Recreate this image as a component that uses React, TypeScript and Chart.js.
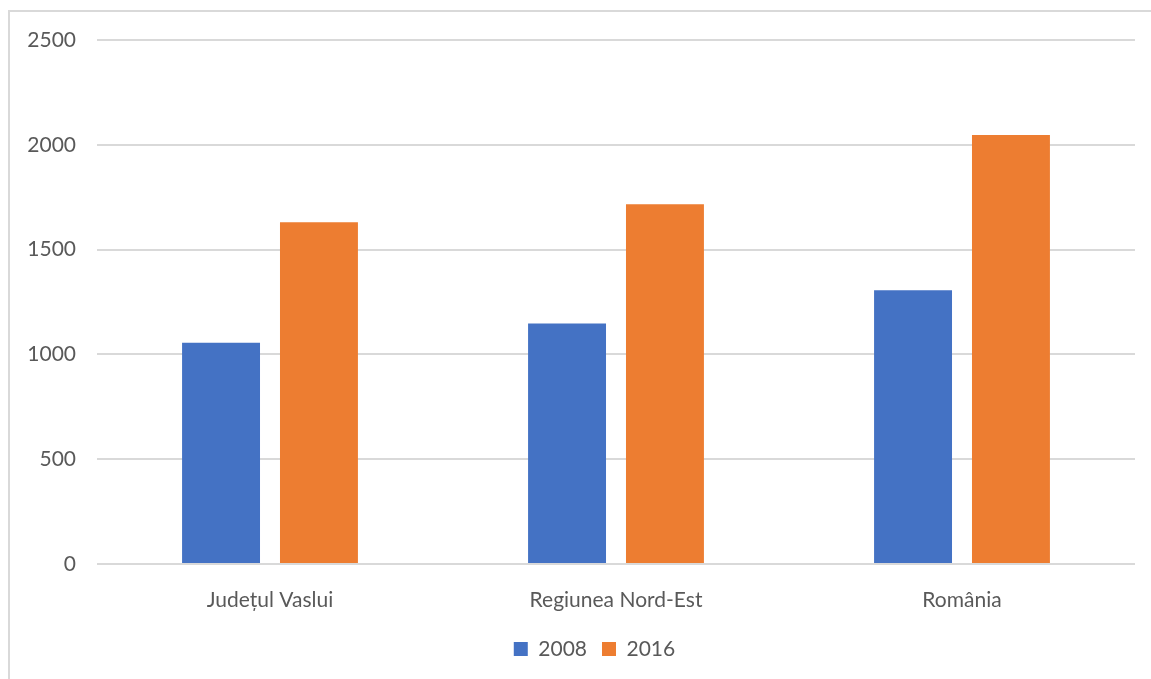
import React, { useEffect, useRef } from "react";
import { Chart, registerables } from "chart.js";

Chart.register(...registerables);

const categories = ["Județul Vaslui", "Regiunea Nord-Est", "România"];
const series2008 = [1056, 1147, 1306];
const series2016 = [1630, 1716, 2047];
const seriesLabels = ["2008", "2016"];
const yTicks = [0, 500, 1000, 1500, 2000, 2500];

const TEXT = "#595959";
const FONT = "Lato";

const legendShift = {
  id: "legendShift",
  afterLayout(chart: any) {
    if (chart.legend) {
      chart.legend.left += 22;
      chart.legend.right += 22;
    }
  },
};

export default function App() {
  const ref = useRef<HTMLCanvasElement | null>(null);

  useEffect(() => {
    if (!ref.current) return;
    const chart = new Chart(ref.current, {
      type: "bar",
      data: {
        labels: categories,
        datasets: [
          {
            label: seriesLabels[0],
            data: series2008,
            backgroundColor: "#4472C4",
            categoryPercentage: 0.566,
            barPercentage: 0.796,
          },
          {
            label: seriesLabels[1],
            data: series2016,
            backgroundColor: "#ED7D31",
            categoryPercentage: 0.566,
            barPercentage: 0.796,
          },
        ],
      },
      plugins: [legendShift],
      options: {
        animation: false,
        responsive: false,
        maintainAspectRatio: false,
        layout: { padding: { left: 0, right: 31, top: 28, bottom: 9.5 } },
        plugins: {
          tooltip: { enabled: false },
          legend: {
            position: "bottom",
            labels: {
              boxWidth: 14,
              boxHeight: 14,
              padding: 15,
              color: TEXT,
              font: { family: FONT, size: 21 },
            },
          },
        },
        scales: {
          x: {
            grid: { display: false, drawTicks: false },
            border: { display: false },
            ticks: {
              color: TEXT,
              font: { family: FONT, size: 21 },
              padding: 24,
              maxRotation: 0,
            },
            afterFit: (scale: any) => {
              scale.height = 59.5;
            },
          },
          y: {
            min: 0,
            max: yTicks[yTicks.length - 1],
            afterBuildTicks: (scale: any) => {
              scale.ticks = yTicks.map((v) => ({ value: v }));
            },
            grid: { color: "#d9d9d9", lineWidth: 2, drawTicks: false },
            border: { display: false },
            ticks: {
              color: TEXT,
              font: { family: FONT, size: 21 },
              padding: 21,
              callback: (v: any) => String(v),
            },
            afterFit: (scale: any) => {
              scale.width = 87;
              scale.paddingTop = 0;
              scale.paddingBottom = 0;
            },
          },
        },
      },
    });
    return () => chart.destroy();
  }, []);

  return (
    <div
      style={{
        position: "fixed",
        left: 0,
        top: 0,
        width: 1151,
        height: 679,
        overflow: "hidden",
        background: "#fff",
      }}
    >
      <div
        style={{
          position: "absolute",
          left: 8,
          top: 10,
          width: 1180,
          height: 690,
          borderTop: "2px solid #d9d9d9",
          borderLeft: "2px solid #d9d9d9",
        }}
      >
        <canvas ref={ref} width={1156} height={667} style={{ display: "block" }} />
      </div>
    </div>
  );
}
